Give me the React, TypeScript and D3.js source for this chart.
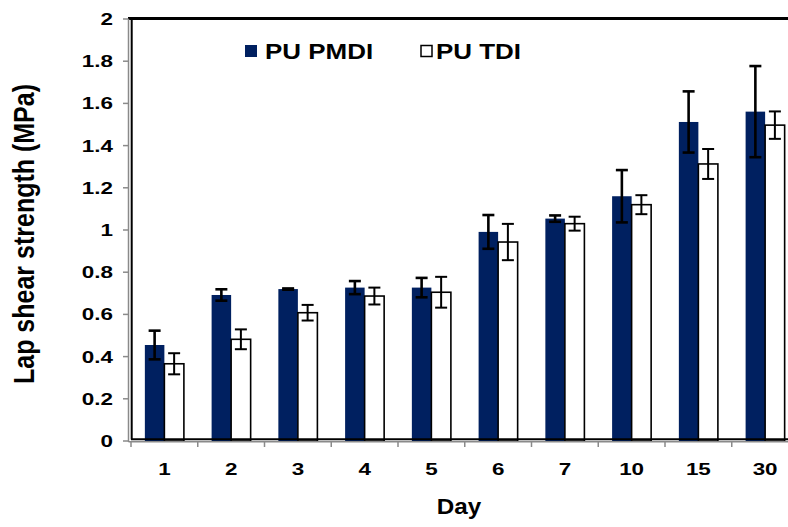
import React from "react";
import * as d3 from "d3";

const days = ["1", "2", "3", "4", "5", "6", "7", "10", "15", "30"];
const pmdi = [0.455, 0.692, 0.72, 0.727, 0.727, 0.991, 1.054, 1.16, 1.512, 1.561];
const pmdiErr = [0.068, 0.027, 0.003, 0.031, 0.046, 0.08, 0.015, 0.124, 0.145, 0.216];
const tdi = [0.366, 0.482, 0.608, 0.687, 0.705, 0.943, 1.03, 1.12, 1.313, 1.497];
const tdiErr = [0.05, 0.047, 0.037, 0.04, 0.073, 0.086, 0.033, 0.045, 0.071, 0.065];
const yTicks = [0, 0.2, 0.4, 0.6, 0.8, 1, 1.2, 1.4, 1.6, 1.8, 2];
const seriesNames = ["PU PMDI", "PU TDI"];

const NAVY = "#002060";
const FONT = "'Liberation Sans', Arial, sans-serif";
const SX = 1.32;

const W = 788;
const H = 527;
const left = 131;
const catW = 66.75;
const right = left + catW * days.length;
const top = 19;
const bottom = 441;

export default function App() {
  const x = d3.scaleBand<string>().domain(days).range([left, right]).paddingInner(0).paddingOuter(0);
  const inner = d3.scaleBand<string>().domain(seriesNames).range([0, x.bandwidth()]).paddingInner(0).paddingOuter(0.71);
  const y = d3.scaleLinear().domain([0, 2]).range([bottom, top]);
  const bw = inner.bandwidth();

  const label = (txt: string, tx: number, ty: number, size: number, anchor: string, sx = SX, extra = "") => (
    <text
      key={txt + tx + ty}
      transform={`translate(${tx},${ty}) scale(${sx},1)${extra}`}
      fontFamily={FONT}
      fontWeight="bold"
      fontSize={size}
      textAnchor={anchor}
      fill="#000"
    >
      {txt}
    </text>
  );

  const errBar = (cx: number, v: number, e: number, sw: number, key: string) => (
    <g key={key} stroke="#000" strokeWidth={sw}>
      <line x1={cx} x2={cx} y1={y(v + e)} y2={y(v - e)} />
      <line x1={cx - 6} x2={cx + 6} y1={y(v + e)} y2={y(v + e)} />
      <line x1={cx - 6} x2={cx + 6} y1={y(v - e)} y2={y(v - e)} />
    </g>
  );

  return (
    <svg width={W} height={H} style={{ position: "absolute", left: 0, top: 0, background: "#fff" }}>
      {/* bars */}
      {days.map((d, i) => {
        const x0 = x(d)!;
        const xa = x0 + inner("PU PMDI")!;
        const xb = x0 + inner("PU TDI")!;
        return (
          <g key={d}>
            <rect x={xa} y={y(pmdi[i])} width={bw} height={y(0) - y(pmdi[i])} fill={NAVY} />
            <rect x={xb} y={y(tdi[i])} width={bw} height={y(0) - y(tdi[i])} fill="#fff" stroke="#000" strokeWidth={1.6} />
            {errBar(xa + bw / 2, pmdi[i], pmdiErr[i], 2.6, "a" + d)}
            {errBar(xb + bw / 2, tdi[i], tdiErr[i], 2, "b" + d)}
          </g>
        );
      })}

      {/* frame */}
      <line x1={left - 3} x2={W} y1={top - 0.5} y2={top - 0.5} stroke="#000" strokeWidth={3} />
      <line x1={left + 0.7} x2={left + 0.7} y1={top - 2} y2={bottom - 1.5} stroke="#000" strokeWidth={2} />
      <line x1={left} x2={W} y1={bottom - 1.7} y2={bottom - 1.7} stroke="#000" strokeWidth={2} />
      {/* gray axes */}
      <line x1={left - 2.5} x2={left - 2.5} y1={top} y2={bottom + 1} stroke="#8a8a8a" strokeWidth={1.5} />
      <line x1={left - 2.5} x2={W} y1={bottom + 0.7} y2={bottom + 0.7} stroke="#8a8a8a" strokeWidth={1.5} />
      {yTicks.map((t) => (
        <line key={"yt" + t} x1={left - 8} x2={left - 2.5} y1={y(t)} y2={y(t)} stroke="#8a8a8a" strokeWidth={1.5} />
      ))}
      {days.map((d) => (
        <line key={"xt" + d} x1={x(d)!} x2={x(d)!} y1={bottom} y2={bottom + 6} stroke="#8a8a8a" strokeWidth={1.5} />
      ))}

      {/* tick labels */}
      {yTicks.map((t) => label(String(t), 113, y(t) + 6, 17, "end"))}
      {days.map((d) => label(d, x(d)! + catW / 2, 475, 17, "middle"))}

      {/* titles */}
      {label("Lap shear strength (MPa)", 34, 234, 25, "middle", 1.15, " rotate(-90)")}
      {label("Day", 459, 514, 22, "middle", 1.1)}

      {/* legend */}
      <rect x={245} y={45} width={12} height={12} fill={NAVY} />
      {label(seriesNames[0], 265, 59, 22, "start", 1.18)}
      <rect x={421} y={45.5} width={11} height={11} fill="#fff" stroke="#000" strokeWidth={1.5} />
      {label(seriesNames[1], 436, 59, 22, "start", 1.18)}
    </svg>
  );
}
